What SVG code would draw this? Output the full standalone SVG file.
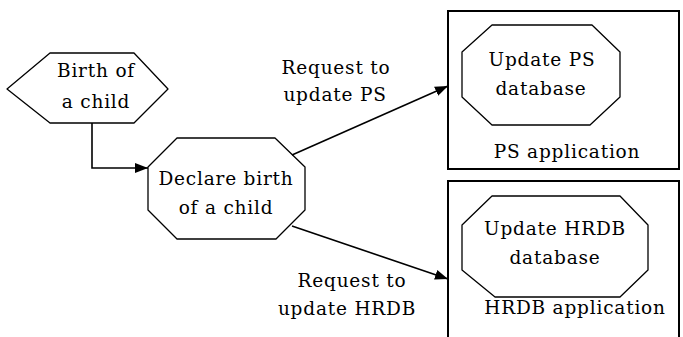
<svg xmlns="http://www.w3.org/2000/svg" width="683" height="337" viewBox="0 0 683 337">
  <style>
    .shape { fill: #ffffff; stroke: #000000; stroke-width: 1.3; stroke-linejoin: round; }
    .frame { fill: none; stroke: #000000; stroke-width: 2; }
    .wire { fill: none; stroke: #000000; stroke-width: 1.6; }
    text { font-family: "DejaVu Serif", "Liberation Serif", serif; font-size: 18.5px; fill: #000000; text-anchor: middle; letter-spacing: 0.8px; }
  </style>
  <defs>
    <marker id="head" viewBox="0 0 13 10" refX="13" refY="5" markerWidth="13" markerHeight="10" markerUnits="userSpaceOnUse" orient="auto">
      <path d="M0,0 L13,5 L0,10 Z" fill="#000000"/>
    </marker>
  </defs>
  <rect width="683" height="337" fill="#ffffff"/>

  <!-- application frames -->
  <g id="ps-application">
    <rect class="frame" x="448" y="11" width="231" height="158"/>
    <text x="567" y="158">PS application</text>
  </g>
  <g id="hrdb-application">
    <path class="frame" d="M448,340 L448,181 L679,181 L679,340"/>
    <text x="575" y="314">HRDB application</text>
  </g>

  <!-- trigger event -->
  <g id="birth-event">
    <polygon class="shape" points="7,89 50,53 134,53 168,89 134,123 50,123"/>
    <text x="96" y="77">Birth of</text>
    <text x="96" y="108">a child</text>
  </g>

  <!-- declaration step -->
  <g id="declare-birth">
    <polygon class="shape" points="177,138 275,138 305,167 305,210 276,239 177,239 148,210 148,167"/>
    <text x="226" y="185">Declare birth</text>
    <text x="226" y="214">of a child</text>
  </g>

  <!-- update steps inside each application -->
  <g id="update-ps">
    <polygon class="shape" points="492,25 592,25 620,52 620,97 590,125 492,125 462,97 462,52"/>
    <text x="542" y="66">Update PS</text>
    <text x="541" y="95">database</text>
  </g>
  <g id="update-hrdb">
    <polygon class="shape" points="492,196 620,196 648,225 648,270 620,297 495,297 462,270 462,225"/>
    <text x="555" y="235">Update HRDB</text>
    <text x="555" y="264">database</text>
  </g>

  <!-- connectors -->
  <g id="connectors">
    <path class="wire" d="M92,123 L92,168 L148,168" marker-end="url(#head)"/>
    <path class="wire" d="M292,155 L448,86" marker-end="url(#head)"/>
    <path class="wire" d="M292,226 L448,279" marker-end="url(#head)"/>
    <text x="336" y="74">Request to</text>
    <text x="335" y="101">update PS</text>
    <text x="352" y="287">Request to</text>
    <text x="347" y="315">update HRDB</text>
  </g>
</svg>
